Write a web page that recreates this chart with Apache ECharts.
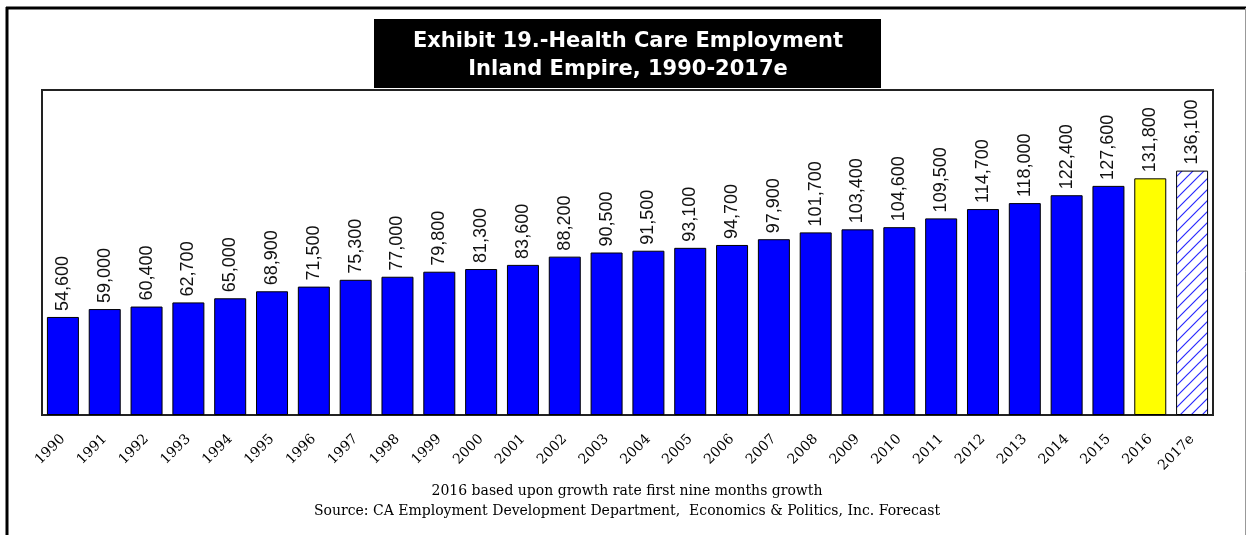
<!DOCTYPE html>
<html>
<head>
<meta charset="utf-8">
<title>Health Care Employment</title>
<script src="https://cdn.jsdelivr.net/npm/echarts@6/dist/echarts.min.js"></script>
<style>
  html, body { margin: 0; padding: 0; background: #fff; }
  #chart { width: 1247px; height: 535px; }
</style>
</head>
<body>
<div id="chart"></div>
<script>
const years = ['1990', '1991', '1992', '1993', '1994', '1995', '1996', '1997', '1998', '1999',
  '2000', '2001', '2002', '2003', '2004', '2005', '2006', '2007', '2008', '2009',
  '2010', '2011', '2012', '2013', '2014', '2015', '2016', '2017e']
const jobs = [54600, 59000, 60400, 62700, 65000, 68900, 71500, 75300, 77000, 79800,
  81300, 83600, 88200, 90500, 91500, 93100, 94700, 97900, 101700, 103400,
  104600, 109500, 114700, 118000, 122400, 127600, 131800, 136100]
const titleLines = ['Exhibit 19.-Health Care Employment', 'Inland Empire, 1990-2017e']
const notes = ['2016 based upon growth rate first nine months growth',
  'Source: CA Employment Development Department,  Economics & Politics, Inc. Forecast']

// diagonal hatch for the forecast bar
function makeHatch() {
  const c = document.createElement('canvas')
  c.width = 11
  c.height = 11
  const ctx = c.getContext('2d')
  ctx.fillStyle = '#fff'
  ctx.fillRect(0, 0, 11, 11)
  ctx.strokeStyle = '#2a2aff'
  ctx.lineWidth = 1.2
  ctx.beginPath()
  ctx.moveTo(-1, 12); ctx.lineTo(12, -1)
  ctx.moveTo(-6, 6); ctx.lineTo(6, -6)
  ctx.moveTo(5, 17); ctx.lineTo(17, 5)
  ctx.stroke()
  return c
}

function barColor(i) {
  if (years[i] === '2016') return '#ffff00'
  if (years[i] === '2017e') return { image: makeHatch(), repeat: 'repeat' }
  return '#0000ff'
}

const chart = echarts.init(document.getElementById('chart'))

const option = {
  animation: false,
  backgroundColor: '#fff',
  grid: {
    left: 42, right: 34, top: 90, bottom: 120,
    show: true, borderColor: '#222', borderWidth: 2
  },
  xAxis: {
    type: 'category',
    data: years,
    axisLine: { show: false },
    axisTick: { show: false },
    axisLabel: {
      interval: 0,
      rotate: 45,
      margin: 22,
      fontFamily: 'DejaVu Serif',
      fontSize: 14,
      color: '#000'
    }
  },
  yAxis: {
    type: 'value',
    min: 0,
    max: 181000,
    show: false
  },
  series: [{
    type: 'bar',
    barWidth: 32,
    data: jobs.map((v, i) => ({
      value: v,
      itemStyle: { color: barColor(i) }
    })),
    itemStyle: { borderColor: '#000', borderWidth: 1 },
    label: {
      show: true,
      position: 'top',
      rotate: 90,
      align: 'left',
      verticalAlign: 'middle',
      distance: 6,
      fontFamily: 'Liberation Sans',
      fontSize: 18,
      color: '#111',
      formatter: p => p.value.toLocaleString('en-US')
    }
  }],
  graphic: [
    // outer frame
    { type: 'line', shape: { x1: 7, y1: 7, x2: 7, y2: 535 }, style: { stroke: '#000', lineWidth: 3 } },
    { type: 'line', shape: { x1: 6, y1: 8, x2: 1246, y2: 8 }, style: { stroke: '#000', lineWidth: 3 } },
    { type: 'line', shape: { x1: 1245.5, y1: 8, x2: 1245.5, y2: 535 }, style: { stroke: '#999', lineWidth: 1 } },
    // title box
    { type: 'rect', shape: { x: 374, y: 19, width: 507, height: 69 }, style: { fill: '#000' } },
    {
      type: 'text', x: 628, y: 42,
      style: { text: titleLines[0], fill: '#fff', font: 'bold 21px "DejaVu Sans"', align: 'center', verticalAlign: 'middle' }
    },
    {
      type: 'text', x: 628, y: 70,
      style: { text: titleLines[1], fill: '#fff', font: 'bold 21px "DejaVu Sans"', align: 'center', verticalAlign: 'middle' }
    },
    // footnotes
    {
      type: 'text', x: 627, y: 491,
      style: { text: notes[0], fill: '#000', font: '14px "DejaVu Serif"', align: 'center', verticalAlign: 'middle' }
    },
    {
      type: 'text', x: 627, y: 511,
      style: { text: notes[1], fill: '#000', font: '14px "DejaVu Serif"', align: 'center', verticalAlign: 'middle' }
    }
  ]
}

chart.setOption(option)
</script>
</body>
</html>
